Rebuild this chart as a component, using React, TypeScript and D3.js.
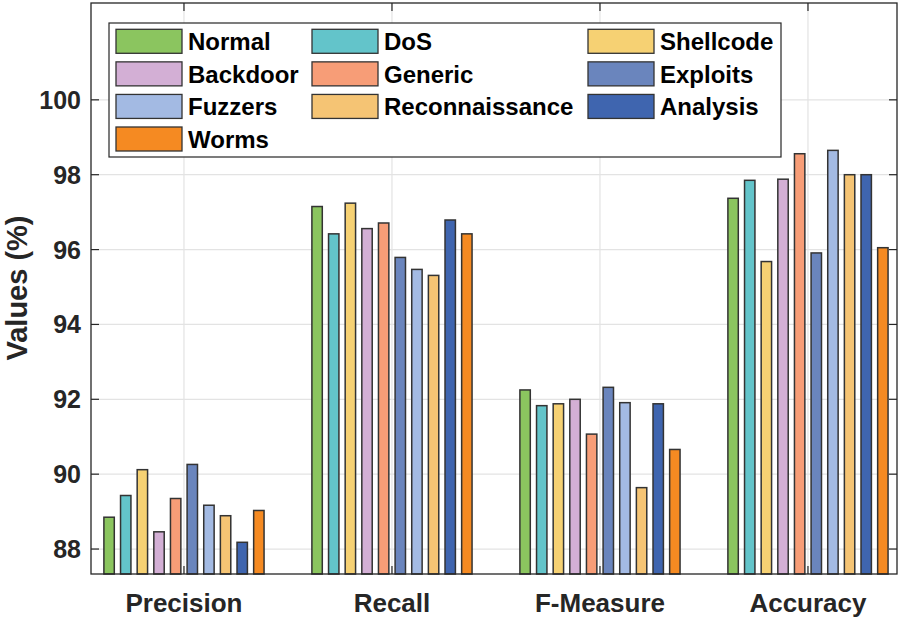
import React from 'react';
import * as d3 from 'd3';

// Categories on the x axis
const metrics = ['Precision', 'Recall', 'F-Measure', 'Accuracy'];

// Attack classes in bar order (also legend order, row by row)
const classes = ['Normal', 'DoS', 'Shellcode', 'Backdoor', 'Generic', 'Exploits', 'Fuzzers', 'Reconnaissance', 'Analysis', 'Worms'];

const classColors = ['#8bc55f', '#63c4ca', '#f6d173', '#d3afd5', '#f79d77', '#6a85bd', '#a3bae3', '#f5c474', '#3f65af', '#f58a22'];

// Values (%) per class, one entry per metric
const normal = [88.85, 97.15, 92.25, 97.37];
const dos = [89.43, 96.42, 91.83, 97.85];
const shellcode = [90.12, 97.24, 91.88, 95.68];
const backdoor = [88.46, 96.56, 92.0, 97.88];
const generic = [89.35, 96.71, 91.07, 98.56];
const exploits = [90.26, 95.79, 92.32, 95.91];
const fuzzers = [89.17, 95.47, 91.91, 98.65];
const reconnaissance = [88.89, 95.31, 89.64, 98.0];
const analysis = [88.18, 96.79, 91.88, 98.0];
const worms = [89.03, 96.42, 90.66, 96.05];

const series = [normal, dos, shellcode, backdoor, generic, exploits, fuzzers, reconnaissance, analysis, worms];

const yTicks = [88, 90, 92, 94, 96, 98, 100];

const W = 902;
const H = 622;
const left = 91;
const right = 897;
const top = 3;
const bottom = 574;
const font = '"Liberation Sans", Arial, Helvetica, sans-serif';
const textColor = '#262626';

const App: React.FC = () => {
  const x = d3.scaleLinear().domain([0.553, 4.428]).range([left, right]);
  const y = d3.scaleLinear().domain([87.333, 102.587]).range([bottom, top]);

  // offset of each bar inside its group, in x units
  const step = 0.08;
  const barW = 0.05;
  const offset = d3.scaleLinear().domain([0, classes.length - 1]).range([-step * 4.5, step * 4.5]);

  const legendRows = Math.ceil(classes.length / 3);
  const colX = [116, 312, 588];
  const rowY = d3.scaleLinear().domain([0, legendRows - 1]).range([41.3, 139]);

  return (
    <svg width={W} height={H} style={{ position: 'absolute', left: 0, top: 0, background: '#fff' }}>
      <rect x={0} y={0} width={W} height={H} fill="#fff" />
      {/* grid */}
      {yTicks.map((t) => (
        <line key={'gy' + t} x1={left} x2={right} y1={y(t)} y2={y(t)} stroke="#e3e3e3" strokeWidth={1.2} />
      ))}
      {metrics.map((m, i) => (
        <line key={'gx' + m} x1={x(i + 1)} x2={x(i + 1)} y1={top} y2={bottom} stroke="#e3e3e3" strokeWidth={1.2} />
      ))}
      {/* bars */}
      {series.map((vals, ci) =>
        vals.map((v, mi) => {
          const cx = x(mi + 1 + offset(ci));
          const bw = x(barW) - x(0);
          return (
            <rect
              key={ci + '-' + mi}
              x={cx - bw / 2}
              y={y(v)}
              width={bw}
              height={bottom - y(v)}
              fill={classColors[ci]}
              stroke="#333"
              strokeWidth={1.5}
            />
          );
        })
      )}
      {/* axes box */}
      <rect x={left} y={top} width={right - left} height={bottom - top} fill="none" stroke="#262626" strokeWidth={1.3} />
      {yTicks.map((t) => (
        <g key={'ty' + t}>
          <line x1={left} x2={left + 8} y1={y(t)} y2={y(t)} stroke="#262626" strokeWidth={1.2} />
          <line x1={right} x2={right - 8} y1={y(t)} y2={y(t)} stroke="#262626" strokeWidth={1.2} />
          <text x={left - 10} y={y(t)} dy="0.36em" textAnchor="end" fontFamily={font} fontWeight="bold" fontSize={25} fill={textColor}>
            {t}
          </text>
        </g>
      ))}
      {metrics.map((m, i) => (
        <g key={'tx' + m}>
          <line x1={x(i + 1)} x2={x(i + 1)} y1={top} y2={top + 8} stroke="#262626" strokeWidth={1.2} />
          <line x1={x(i + 1)} x2={x(i + 1)} y1={bottom} y2={bottom - 8} stroke="#262626" strokeWidth={1.2} />
          <text x={x(i + 1)} y={612} textAnchor="middle" fontFamily={font} fontWeight="bold" fontSize={26} fill={textColor}>
            {m}
          </text>
        </g>
      ))}
      <text
        transform={`translate(27,288) rotate(-90)`}
        textAnchor="middle"
        fontFamily={font}
        fontWeight="bold"
        fontSize={29}
        fill={textColor}
      >
        Values (%)
      </text>
      {/* legend */}
      <rect x={109} y={23} width={672} height={134} fill="#fff" stroke="#262626" strokeWidth={1.2} />
      {classes.map((c, i) => {
        const col = i % 3;
        const row = Math.floor(i / 3);
        const sx = colX[col];
        const sy = rowY(row);
        return (
          <g key={'lg' + c}>
            <rect x={sx} y={sy - 12} width={66} height={24} fill={classColors[i]} stroke="#333" strokeWidth={1.3} />
            <text x={sx + 72} y={sy} dy="0.36em" fontFamily={font} fontWeight="bold" fontSize={24} fill="#000">
              {c}
            </text>
          </g>
        );
      })}
    </svg>
  );
};

export default App;
